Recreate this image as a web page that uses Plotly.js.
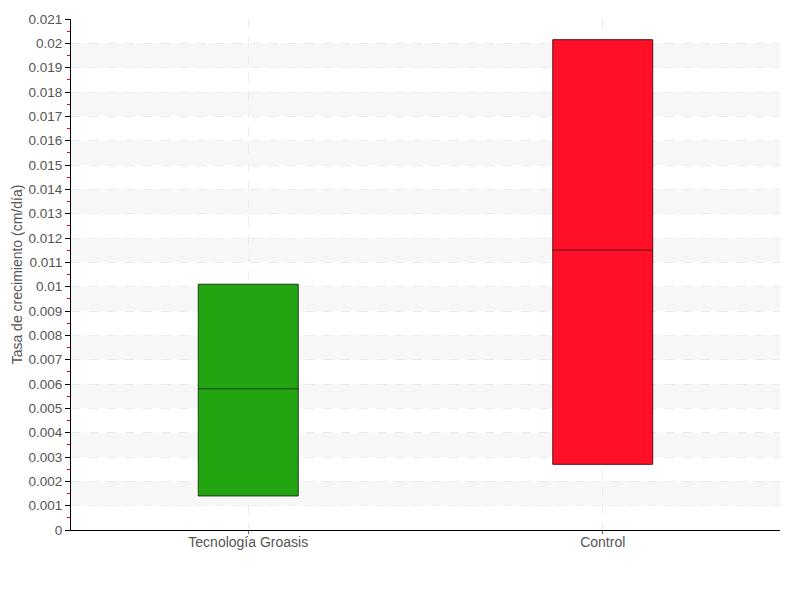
<!DOCTYPE html>
<html>
<head>
<meta charset="utf-8">
<script src="https://cdn.plot.ly/plotly-3.0.1.min.js"></script>
<style>html,body{margin:0;padding:0;background:#fff;}#chart{width:800px;height:600px;}</style>
</head>
<body>
<div id="chart"></div>
<script>
var categories = ["Tecnología Groasis", "Control"];
var q1Values = [0.0014, 0.0027];
var medianValues = [0.0058, 0.0115];
var q3Values = [0.0101, 0.02015];
var boxColors = ["#22a511", "#ff0f28"];
var lineColors = ["#1a3d14", "#5a1018"];
var yTickValues = [];
for (var i = 0; i <= 21; i++) yTickValues.push(+(i * 0.001).toFixed(3));

var traces = categories.map(function (c, i) {
  return {
    type: "box",
    x: [c],
    q1: [q1Values[i]],
    median: [medianValues[i]],
    q3: [q3Values[i]],
    lowerfence: [q1Values[i]],
    upperfence: [q3Values[i]],
    width: 0.282,
    fillcolor: boxColors[i],
    line: { color: lineColors[i], width: 1 },
    whiskerwidth: 0,
    hoverinfo: "y",
    showlegend: false
  };
});

var shapes = [];
for (var k = 1; k < 21; k += 2) {
  shapes.push({
    type: "rect", xref: "paper", yref: "y", layer: "below",
    x0: 0, x1: 1, y0: yTickValues[k], y1: yTickValues[k + 1],
    fillcolor: "#f7f7f7", line: { width: 0 }
  });
}

var fontFam = "Liberation Sans, Arial, sans-serif";
var layout = {
  width: 800, height: 600,
  margin: { l: 71, r: 20, t: 19, b: 70 },
  paper_bgcolor: "#fff", plot_bgcolor: "#fff",
  font: { family: fontFam, color: "#555", size: 14 },
  shapes: shapes,
  showlegend: false,
  xaxis: {
    type: "category",
    range: [-0.5, 1.5],
    showline: true, linecolor: "#000", linewidth: 1,
    showgrid: true, gridcolor: "#ebebeb", griddash: "dash",
    ticks: "outside", ticklen: 3, tickcolor: "#666",
    ticklabelstandoff: -4,
    tickfont: { size: 14, color: "#555", family: fontFam },
    zeroline: false
  },
  yaxis: {
    range: [0, 0.021],
    tickvals: yTickValues,
    ticktext: yTickValues.map(function (v) { return String(v); }),
    showline: true, linecolor: "#000", linewidth: 1,
    showgrid: true, gridcolor: "#ebebeb", griddash: "dash",
    ticks: "outside", ticklen: 5, tickcolor: "#000",
    tickfont: { size: 13.5, color: "#555", family: fontFam },
    zeroline: false,
    minor: { dtick: 0.0005, tick0: 0.0005, ticks: "outside", ticklen: 3, tickcolor: "#ff0000", showgrid: false },
    title: { text: "Tasa de crecimiento (cm/día)", font: { size: 14, color: "#555", family: fontFam }, standoff: 2 }
  }
};

Plotly.newPlot("chart", traces, layout, { displayModeBar: false });
</script>
</body>
</html>
